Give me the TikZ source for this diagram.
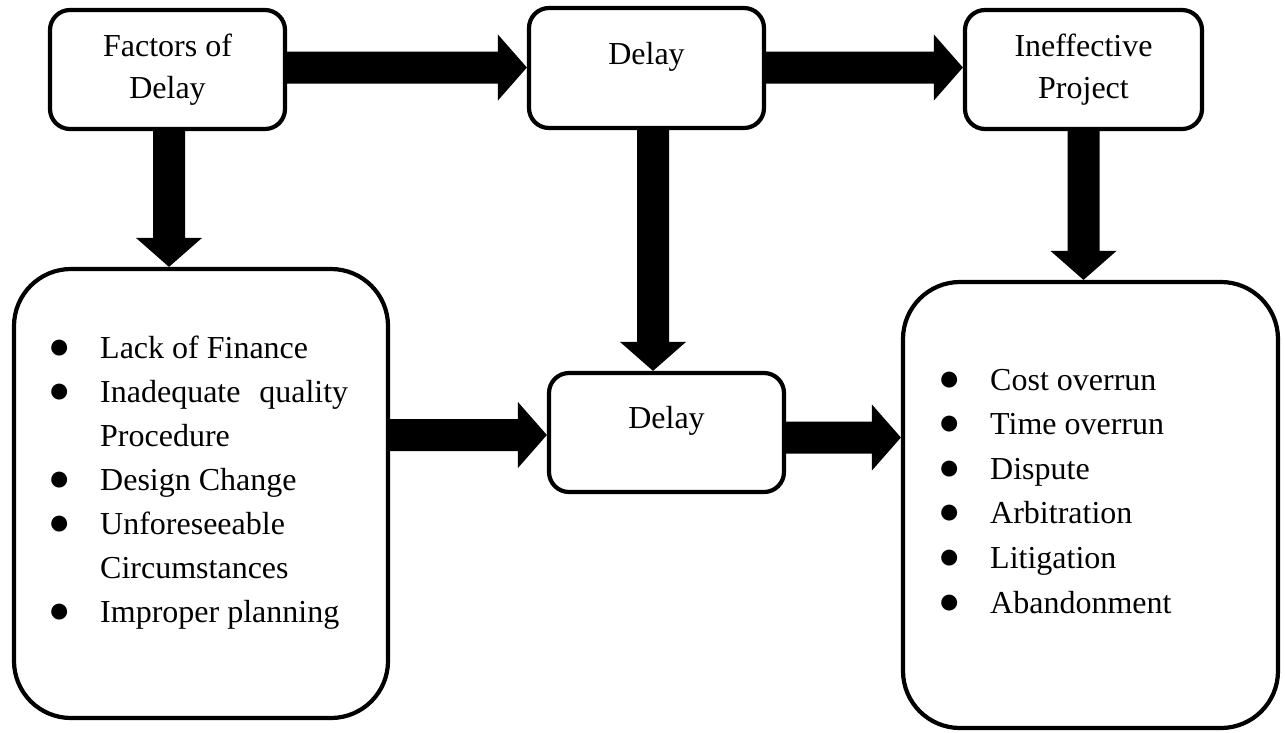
\documentclass[tikz,border=0pt]{standalone}
\usepackage{fontspec}
\setmainfont{Liberation Serif}
\usetikzlibrary{calc}
\newcommand\mybul{\makebox[20pt][c]{\fontsize{37}{37}\selectfont ●}\hspace{31pt}}
% horizontal block arrow: start, target, reference point for the centre line
\newcommand\harrow[3]{%
  \fill[black] let \p1=(#1), \p2=(#2), \p3=(#3) in
    (\x1-1pt,\y3+16pt) -- (\x2-29pt,\y3+16pt) -- (\x2-29pt,\y3+33pt) --
    (\x2,\y3) -- (\x2-29pt,\y3-33pt) -- (\x2-29pt,\y3-16pt) --
    (\x1-1pt,\y3-16pt) -- cycle;}
% vertical block arrow: start, target, reference point for the centre line
\newcommand\varrow[3]{%
  \fill[black] let \p1=(#1), \p2=(#2), \p3=(#3) in
    (\x3-16pt,\y1+1pt) -- (\x3-16pt,\y2+29pt) -- (\x3-33pt,\y2+29pt) --
    (\x3,\y2) -- (\x3+33pt,\y2+29pt) -- (\x3+16pt,\y2+29pt) --
    (\x3+16pt,\y1+1pt) -- cycle;}
\begin{document}
\begin{tikzpicture}[x=1pt,y=-1pt,
  txtfont/.style={font=\fontsize{32}{42}\selectfont},
  box/.style={draw, line width=4.2pt, rounded corners=20pt, inner sep=0pt,
    align=center, txtfont},
  bigbox/.style={draw, line width=4.2pt, rounded corners=57pt, inner sep=0pt},
  txt/.style={inner sep=0pt, txtfont},
  li/.style={txt, anchor=base west}]
\path[use as bounding box, fill=white] (0,0) rectangle (1285,732);

% boxes
\node[box, minimum width=235pt, minimum height=119pt] (fac) at (167.5,69.5) {Factors of\\Delay};
\node[box, minimum width=235pt, minimum height=120pt] (dl1) at (646.5,68) {};
\node[txt, anchor=base] (dl1t) at ([yshift=4pt]dl1.center) {Delay};
\node[box, minimum width=237pt, minimum height=119pt] (ine) at (1083.5,69.5) {Ineffective\\Project};
\node[bigbox, minimum width=374pt, minimum height=449pt] (lb) at (201,493.5) {};
\node[box, minimum width=235pt, minimum height=119pt] (dl2) at (666.5,432.5) {};
\node[txt, anchor=base] (dl2t) at ([yshift=4.5pt]dl2.center) {Delay};
\node[bigbox, minimum width=375pt, minimum height=446pt] (rb) at (1090.5,505) {};

% left list
\node[li] (a1) at (49,358) {\mybul Lack of Finance};
\node[li] (a2) at (49,402) {\mybul\makebox[248pt][s]{Inadequate quality}};
\node[li] (a3) at (100,446) {Procedure};
\node[li] (a4) at (49,490) {\mybul Design Change};
\node[li] (a5) at (49,534) {\mybul Unforeseeable};
\node[li] (a6) at (100,578) {Circumstances};
\node[li] (a7) at (49,622) {\mybul Improper planning};

% right list
\node[li] (b1) at (939,390) {\mybul Cost overrun};
\node[li] (b2) at (939,434.6) {\mybul Time overrun};
\node[li] (b3) at (939,479.2) {\mybul Dispute};
\node[li] (b4) at (939,523.8) {\mybul Arbitration};
\node[li] (b5) at (939,568.4) {\mybul Litigation};
\node[li] (b6) at (939,613) {\mybul Abandonment};

% block arrows
\harrow{fac.east}{dl1.west}{[yshift=0.5pt]dl1.west}
\harrow{dl1.east}{ine.west}{[yshift=0.5pt]dl1.east}
\varrow{fac.south}{lb.north}{[xshift=1.5pt]fac.south}
\varrow{ine.south}{rb.north}{ine.south}
\varrow{dl1.south}{dl2.north}{[xshift=6.5pt]dl1.south}
\harrow{lb.east}{dl2.west}{[yshift=-2.5pt]dl2.west}
\harrow{dl2.east}{rb.west}{[yshift=-5pt]dl2.east}
\end{tikzpicture}
\end{document}
